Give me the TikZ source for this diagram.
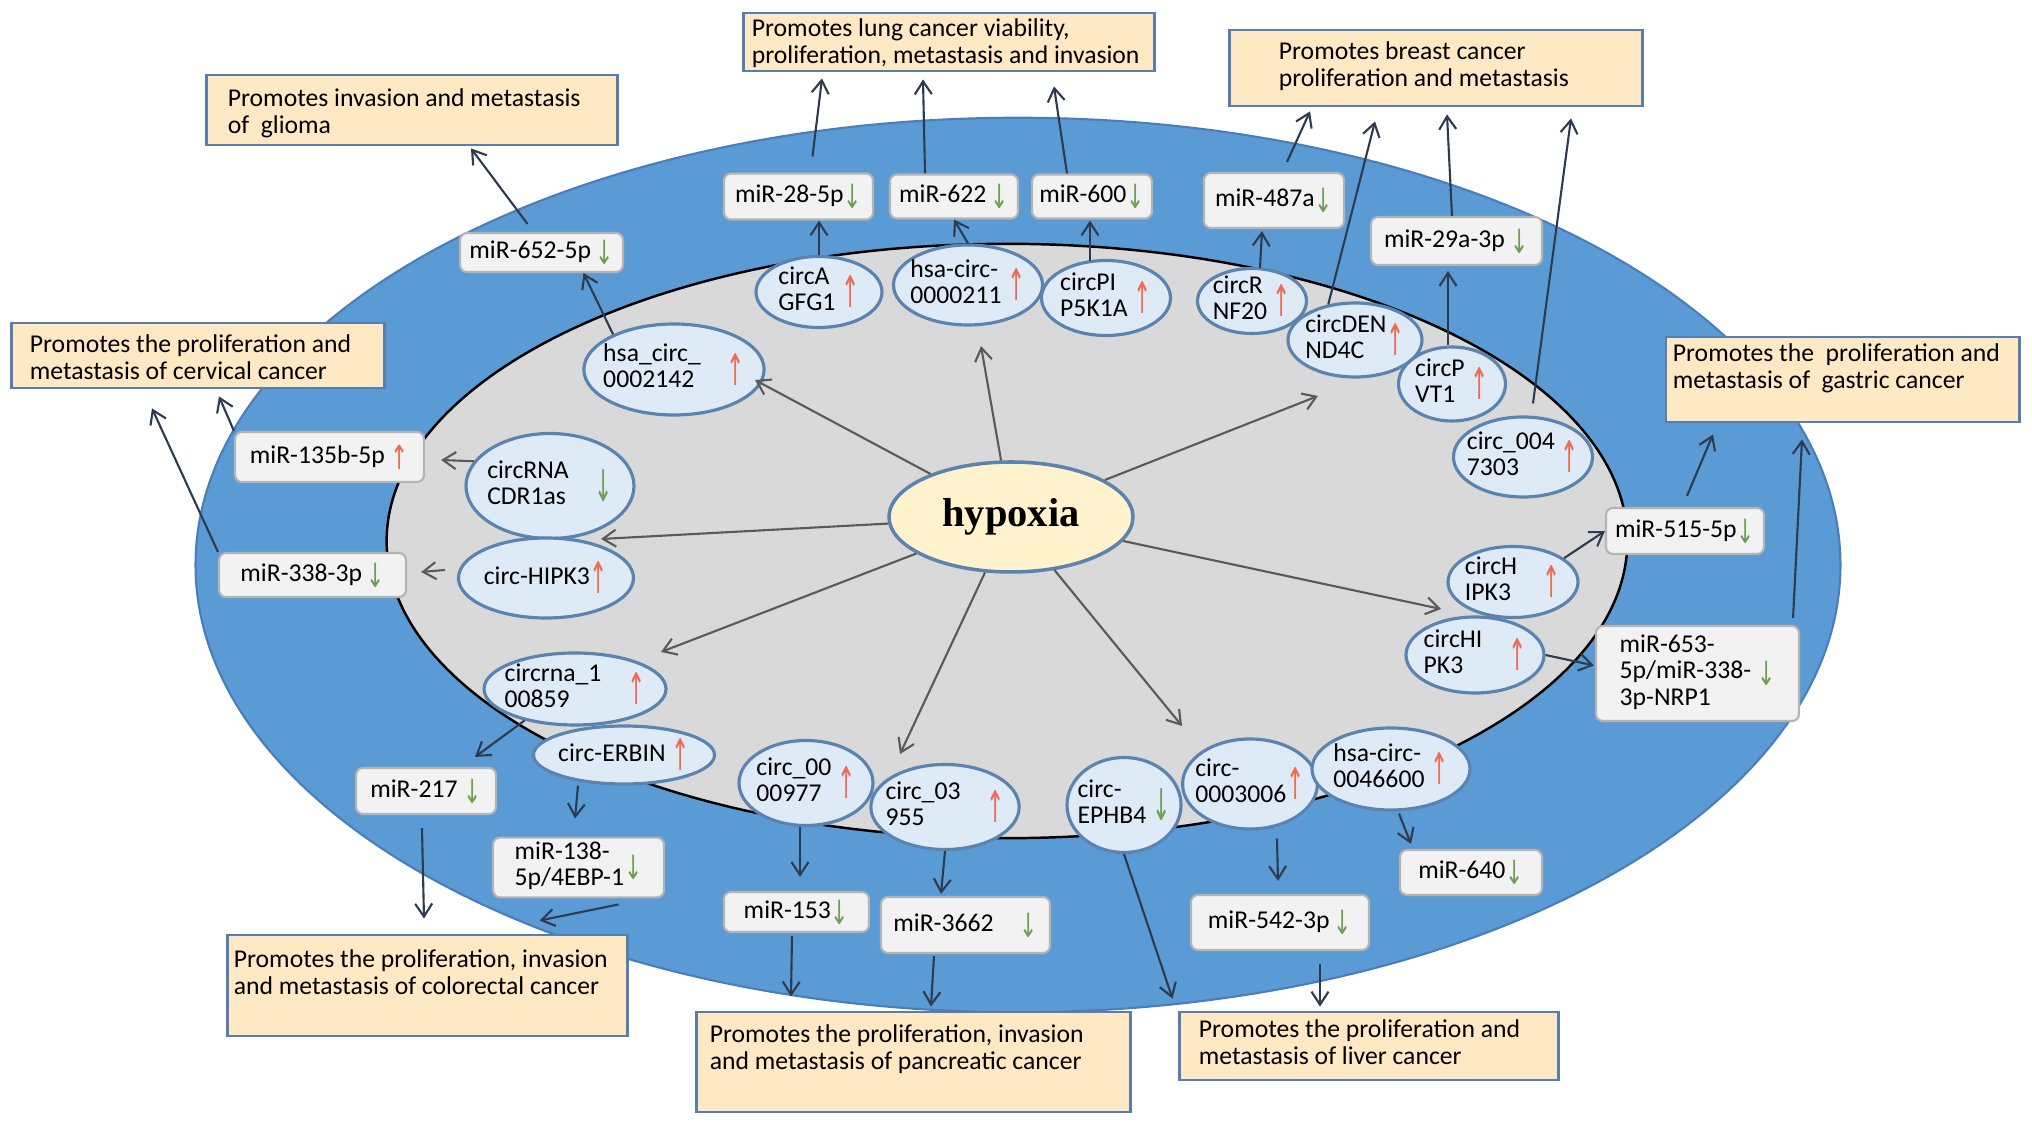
\documentclass[tikz,border=0pt]{standalone}
\usepackage{fontspec}
\usepackage{graphicx}
\usepackage{xcolor}
\usetikzlibrary{shapes.geometric,arrows.meta,calc,positioning}
\setmainfont{Carlito}
\newfontfamily\hypfont{Liberation Serif}
\newfontfamily\arrfont{DejaVu Sans}
\definecolor{oceanblue}{HTML}{5B9BD5}
\definecolor{oceanedge}{HTML}{4A7EBB}
\definecolor{coregray}{HTML}{D9D9D9}
\definecolor{circfill}{HTML}{DEEBF7}
\definecolor{circedge}{HTML}{5B83B0}
\definecolor{mirfill}{HTML}{F2F2F2}
\definecolor{miredge}{HTML}{B4B4B4}
\definecolor{peach}{HTML}{FFE8C4}
\definecolor{peachedge}{HTML}{5A7DB0}
\definecolor{hypfill}{HTML}{FFF2CC}
\definecolor{upred}{HTML}{EE6A50}
\definecolor{dngreen}{HTML}{6E9F55}
\definecolor{linkcol}{HTML}{2E3B4E}
\definecolor{hxcol}{HTML}{5A5A5A}
\newcommand{\txtfont}{\fontsize{7.3}{7.5}\selectfont}
% thin arrows: tall ones for circRNA ellipses, shorter ones for miRNA boxes
\newcommand{\vmid}[1]{\ensuremath{\vcenter{\hbox{#1}}}}
\newcommand{\up}{\vmid{\textcolor{upred}{\scalebox{0.85}[1.7]{\arrfont ↑}}}}
\newcommand{\dn}{\vmid{\textcolor{dngreen}{\scalebox{0.85}[1.7]{\arrfont ↓}}}}
\newcommand{\mup}{\vmid{\textcolor{upred}{\scalebox{0.85}[1.3]{\arrfont ↑}}}}
\newcommand{\mdn}{\vmid{\textcolor{dngreen}{\scalebox{0.85}[1.3]{\arrfont ↓}}}}
\newcommand{\two}[2]{\begin{tabular}{@{}l@{}}#1\\#2\end{tabular}}
\newcommand{\outtxt}[5]{\parbox[c][#2cm][t]{#1cm}{\vspace*{#3cm}\hspace*{#4cm}\begin{tabular}[t]{@{}l@{}}#5\end{tabular}}}

\begin{document}
\begin{tikzpicture}[x=0.01cm, y=-0.01cm,
    sz/.style 2 args={minimum width=#1*0.01cm, minimum height=#2*0.01cm},
    outcome/.style={draw=peachedge, fill=peach, line width=0.8pt, inner sep=0pt, font=\txtfont},
    mir/.style={draw=miredge, fill=mirfill, line width=0.6pt, rounded corners=0.7mm, inner sep=1pt, font=\txtfont},
    circ/.style={ellipse, draw=circedge, fill=circfill, line width=0.9pt, inner sep=-2pt, font=\txtfont},
    hypo/.style={ellipse, draw=circedge, fill=hypfill, line width=1pt, inner sep=0pt, font=\hypfont\bfseries\fontsize{11.5}{12}\selectfont},
    link/.style={draw=linkcol, line width=0.6pt, -{Straight Barb[length=1.3mm,width=1.7mm]}},
    hxlink/.style={draw=hxcol, line width=0.6pt, -{Straight Barb[length=1.3mm,width=1.7mm]}}]
    \useasboundingbox (0,0) rectangle (2032,1125);
    \fill[white] (0,0) rectangle (2032,1125);

    % Outer blue band and grey core
    \filldraw[fill=oceanblue, draw=oceanedge, line width=0.6pt] (1018,565) ellipse [x radius=8.22cm, y radius=4.47cm];
    \filldraw[fill=coregray, draw=black, line width=0.7pt] (1007,541) ellipse [x radius=6.20cm, y radius=2.97cm];

    % Cancer outcome boxes
    \node[outcome] (glioma) at (412,110) {\outtxt{4.10}{0.70}{0.135}{0.21}{Promotes invasion and metastasis\\of~~glioma}};
    \node[outcome] (lung) at (949,42) {\outtxt{4.10}{0.58}{0.055}{0.08}{Promotes lung cancer viability,\\proliferation, metastasis and invasion}};
    \node[outcome] (breast) at (1436,68) {\outtxt{4.12}{0.76}{0.115}{0.49}{Promotes breast cancer\\proliferation and metastasis}};
    \node[outcome] (cervical) at (198,355.5) {\outtxt{3.72}{0.65}{0.115}{0.18}{Promotes the proliferation and\\metastasis of cervical cancer}};
    \node[outcome] (gastric) at (1842.5,379.5) {\outtxt{3.53}{0.85}{0.065}{0.07}{Promotes the~~proliferation and\\metastasis of~~gastric cancer}};
    \node[outcome] (colorectal) at (427.5,985.5) {\outtxt{3.99}{1.01}{0.145}{0.06}{Promotes the proliferation, invasion\\and metastasis of colorectal cancer}};
    \node[outcome] (pancreatic) at (913.5,1062) {\outtxt{4.33}{1.00}{0.125}{0.13}{Promotes the proliferation, invasion\\and metastasis of pancreatic cancer}};
    \node[outcome] (liver) at (1369,1046) {\outtxt{3.78}{0.68}{0.075}{0.19}{Promotes the proliferation and\\metastasis of liver cancer}};

    % miRNA boxes
    \node[mir, sz={163}{39}] (m652) at (541.5,252.5) {miR-652-5p\,\mdn};
    \node[mir, sz={149}{46}] (m28) at (798.5,196.5) {miR-28-5p\mdn};
    \node[mir, sz={128}{44}] (m622) at (954,196.5) {miR-622\,\mdn};
    \node[mir, sz={120}{44}] (m600) at (1092,196.5) {miR-600\mdn};
    \node[mir, sz={140}{55}] (m487) at (1274,200.5) {miR-487a\mdn};
    \node[mir, sz={171}{48}] (m29a) at (1456.5,241) {miR-29a-3p\ \mdn};
    \node[mir, sz={189}{50}] (m135) at (329.5,457) {miR-135b-5p\ \mup};
    \node[mir, sz={187}{44}] (m338) at (312.5,575) {miR-338-3p\,\mdn};
    \node[mir, sz={158}{46}] (m515) at (1685,531) {miR-515-5p\mdn};
    \node[mir, sz={203}{95}] (m653) at (1697.5,673.5) {\begin{tabular}{@{}l@{}}miR-653-\\5p/miR-338-\\3p-NRP1\end{tabular}~\mdn};
    \node[mir, sz={140}{46}] (m217) at (426,791) {miR-217\ \mdn};
    \node[mir, sz={171}{49}] (m138) at (578.5,867.5) {\two{miR-138-}{5p/4EBP-1}\mdn};
    \node[mir, sz={145}{40}] (m153) at (796.5,912) {miR-153\mdn};
    \node[mir, sz={169}{56}] (m3662) at (965.5,925) {miR-3662\quad\mdn};
    \node[mir, sz={178}{55}] (m542) at (1280,922.5) {miR-542-3p\,\mdn};
    \node[mir, sz={142}{45}] (m640) at (1471,872.5) {miR-640\mdn};

    % circRNA ellipses
    \node[circ, sz={160}{91}] (c2142) at (674,369.5) {\two{hsa\_circ\_}{0002142}\quad\up};
    \node[circ, sz={126}{71}] (cAGF) at (819,292) {\two{circA}{GFG1}\ \up};
    \node[circ, sz={149}{80}] (c0211) at (968,285) {\two{hsa-circ-}{0000211}\ \up};
    \node[circ, sz={129}{75}] (cPI) at (1106,298) {\two{circPI}{P5K1A}\ \up};
    \node[circ, sz={109}{65}] (cRNF) at (1252,301) {\two{circR}{NF20}\ \up};
    \node[circ, sz={134}{74}] (cDEN) at (1355,340) {\two{circDEN}{ND4C}\up};
    \node[circ, sz={107}{74}] (cPVT) at (1452,384) {\two{circP}{VT1}\ \up};
    \node[circ, sz={139}{80}] (c7303) at (1523,457) {\two{circ\_004}{7303}\ \up};
    \node[circ, sz={130}{71}] (cHIPKa) at (1513,582) {\two{circH}{IPK3}\quad\up};
    \node[circ, sz={138}{76}] (cHIPKb) at (1475,655) {\two{circHI}{PK3}\quad\up};
    \node[circ, sz={127}{90}] (c3006) at (1250,784) {\two{circ-}{0003006}\up};
    \node[circ, sz={158}{82}] (c46600) at (1391,769) {\two{hsa-circ-}{0046600}\ \up};
    \node[circ, sz={114}{95}] (cEPH) at (1124,805) {\two{circ-}{EPHB4}\ \dn};
    \node[circ, sz={141}{85}] (c955) at (945,807) {\two{circ\_03}{955}\quad\up};
    \node[circ, sz={134}{85}] (c977) at (806,783) {\two{circ\_00}{00977}\ \up};
    \node[circ, sz={182}{72}] (c859) at (575,689) {\two{circrna\_1}{00859}\quad\up};
    \node[circ, sz={181}{58}] (cERB) at (624,755) {circ-ERBIN\ \up};
    \node[circ, sz={168}{105}] (cCDR) at (550,486) {\two{circRNA}{CDR1as}\quad\dn};
    \node[circ, sz={175}{80}] (cHIPK) at (546,578) {circ-HIPK3\up};

    % Hypoxia hub
    \node[hypo, sz={244}{110}] (hyp) at (1011,517) {hypoxia};
    \coordinate (t2142) at (755,380);
    \coordinate (t0211) at (981,346);
    \coordinate (tDEN) at (1318,396);
    \coordinate (tHIPK) at (601,539);
    \coordinate (tERB) at (661,652);
    \coordinate (t955) at (900,754);
    \coordinate (tEPH) at (1182,726);
    \coordinate (tIPK) at (1441,609);
    \foreach \tip in {t2142,t0211,tDEN,tHIPK,tERB,t955,tEPH,tIPK}
        \draw[hxlink] (hyp) -- (\tip);

    % Upper arc: circRNA -> miRNA -> outcome
    \draw[link] (c2142.150) -- ($(m652.south)+(42,0)$);
    \draw[link] ($(m652.north)+(-14,-8)$) -- ($(glioma.south)+(59,2)$);
    \draw[link] (cAGF.north) -- (cAGF.north |- m28.south);
    \draw[link] ($(m28.north)+(14,-16)$) -- ($(lung.south)+(-127,6)$);
    \draw[link] (c0211.north) -- (m622.south);
    \draw[link] ($(m622.north)+(-29,0)$) -- ($(lung.south)+(-26,7)$);
    \draw[link] ($(cPI.north)+(-16,2)$) -- ($(m600.south)+(-2,1)$);
    \draw[link] ($(m600.north)+(-25,0)$) -- ($(lung.south)+(105,14)$);
    \draw[link] ($(cRNF.north)+(8,1)$) -- ($(m487.south)+(-12,2)$);
    \draw[link] ($(m487.north)+(13,-10)$) -- ($(breast.south)+(-126,4)$);
    \draw[link] (cDEN.127) -- ($(breast.south)+(-61,14)$);
    \draw[link] ($(cPVT.north)+(-4,0)$) -- ($(m29a.south)+(-8.5,5)$);
    \draw[link] ($(m29a.north)+(-4.5,0)$) -- ($(breast.south)+(11,7)$);
    \draw[link] ($(c7303.north)+(10,-12)$) -- ($(breast.south)+(135,11)$);

    % Right side
    \draw[link] (cHIPKa.25) -- (m515.west);
    \draw[link] ($(m515.north)+(2,-11)$) -- ($(gastric.south)+(-129.5,11)$);
    \draw[link] (cHIPKb.east) -- ($(m653.west)+(-1,-8)$);
    \draw[link] ($(m653.north east)+(-7,-7)$) -- ($(gastric.south)+(-40.5,16)$);

    % Left side
    \draw[hxlink] (cCDR.162) -- ($(m135.east)+(16,3)$);
    \draw[link] (m135.north west) -- ($(cervical.south)+(21,7)$);
    \draw[hxlink] ($(cHIPK.west)+(-12,-8)$) -- ($(m338.east)+(14,-3)$);
    \draw[link] (m338.north west) -- ($(cervical.south)+(-46,19)$);

    % Lower arc
    \draw[link] (c859.212) -- ($(m217.north)+(49,-10)$);
    \draw[link] ($(m217.south)+(-4,13)$) -- ($(colorectal.north)+(-3.5,-15)$);
    \draw[link] ($(cERB.south)+(-46,0)$) -- ($(m138.north)+(-3.5,-18)$);
    \draw[link] ($(m138.south)+(40,6)$) -- ($(colorectal.north east)+(-89,-13)$);
    \draw[link] ($(c977.south)+(-6,0)$) -- ($(m153.north)+(3.5,-14)$);
    \draw[link] ($(m153.south)+(-4.5,3)$) -- ($(pancreatic.north)+(-122.5,-14)$);
    \draw[link] (c955.south) -- ($(m3662.north)+(-24.5,-2)$);
    \draw[link] ($(m3662.south)+(-31.5,2)$) -- ($(pancreatic.north)+(17.5,-4)$);
    \draw[link] (cEPH.south) -- ($(liver.north west)+(-6,-12)$);
    \draw[link] ($(c3006.south)+(27,8)$) -- ($(m542.north)+(-2,-13)$);
    \draw[link] ($(m542.south)+(40,13)$) -- ($(liver.north)+(-49,-4)$);
    \draw[link] ($(c46600.south)+(8,2)$) -- ($(m640.north)+(-60,-5)$);
\end{tikzpicture}
\end{document}
